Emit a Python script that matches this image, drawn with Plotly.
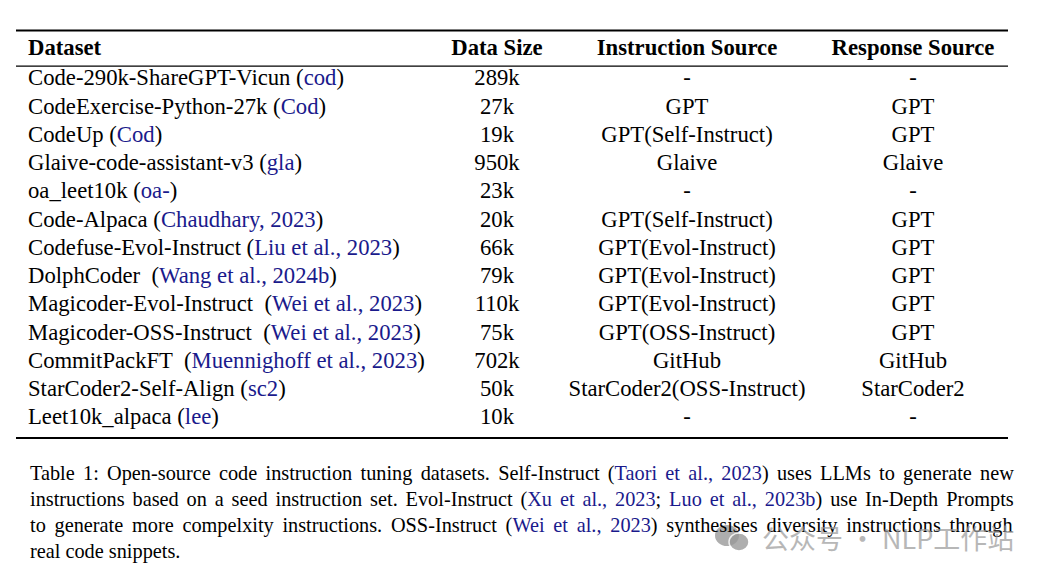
import plotly.graph_objects as go

# table content
headers = ["Dataset", "Data Size", "Instruction Source", "Response Source"]
dataset_names = ["Code-290k-ShareGPT-Vicun", "CodeExercise-Python-27k", "CodeUp",
                 "Glaive-code-assistant-v3", "oa_leet10k", "Code-Alpaca",
                 "Codefuse-Evol-Instruct", "DolphCoder ", "Magicoder-Evol-Instruct ",
                 "Magicoder-OSS-Instruct ", "CommitPackFT ", "StarCoder2-Self-Align",
                 "Leet10k_alpaca"]
citations = ["cod", "Cod", "Cod", "gla", "oa-", "Chaudhary, 2023", "Liu et al., 2023",
             "Wang et al., 2024b", "Wei et al., 2023", "Wei et al., 2023",
             "Muennighoff et al., 2023", "sc2", "lee"]
data_size = ["289k", "27k", "19k", "950k", "23k", "20k", "66k", "79k", "110k", "75k",
             "702k", "50k", "10k"]
instruction_source = ["-", "GPT", "GPT(Self-Instruct)", "Glaive", "-", "GPT(Self-Instruct)",
                      "GPT(Evol-Instruct)", "GPT(Evol-Instruct)", "GPT(Evol-Instruct)",
                      "GPT(OSS-Instruct)", "GitHub", "StarCoder2(OSS-Instruct)", "-"]
response_source = ["-", "GPT", "GPT", "Glaive", "-", "GPT", "GPT", "GPT", "GPT", "GPT",
                   "GitHub", "StarCoder2", "-"]

caption_lines = [
    "Table 1: Open-source code instruction tuning datasets. Self-Instruct (<c>Taori et al., 2023</c>) uses LLMs to generate new",
    "instructions based on a seed instruction set. Evol-Instruct (<c>Xu et al., 2023</c>; <c>Luo et al., 2023b</c>) use In-Depth Prompts",
    "to generate more compelxity instructions. OSS-Instruct (<c>Wei et al., 2023</c>) synthesises diversity instructions through",
    "real code snippets.",
]
# extra word spacing to mimic the justified caption lines
caption_spacing = [3.2, 2.8, 3.7, 0]

CITE = "#1a1a8c"
FONT = "Times New Roman, Liberation Serif, serif"
FS = 22.7
ROW_H = 28.25   # px per row
TOP = 51.5      # px of row index 0
HEADER_Y = -0.06
OFF = 8         # page body margin
W, H = 1050, 577

def cite(s):
    return f'<span style="color:{CITE}">{s}</span>'

def px_x(px):
    return (px - OFF) / W

def px_y(px):
    return 1 - (px - OFF) / H

rows = list(range(1, len(dataset_names) + 1))
first_col = [f"{n} ({cite(c)})" for n, c in zip(dataset_names, citations)]

fig = go.Figure()

# header
fig.add_trace(go.Scatter(x=[28], y=[HEADER_Y], text=[f"<b>{headers[0]}</b>"], mode="text",
                         textposition="middle right",
                         textfont=dict(family=FONT, size=FS, color="black")))
fig.add_trace(go.Scatter(x=[497, 687, 913], y=[HEADER_Y] * 3,
                         text=[f"<b>{h}</b>" for h in headers[1:]], mode="text",
                         textposition="middle center",
                         textfont=dict(family=FONT, size=FS, color="black")))

# body
fig.add_trace(go.Scatter(x=[28] * len(rows), y=rows, text=first_col, mode="text",
                         textposition="middle right",
                         textfont=dict(family=FONT, size=FS, color="black")))
for xc, col in zip([497, 687, 913], [data_size, instruction_source, response_source]):
    fig.add_trace(go.Scatter(x=[xc] * len(rows), y=rows, text=col, mode="text",
                             textposition="middle center",
                             textfont=dict(family=FONT, size=FS, color="black")))

# booktabs rules
for yv, w in [(-0.74, 2), (0.52, 1.2), (13.68, 2)]:
    fig.add_shape(type="line", x0=16, x1=1008, y0=yv, y1=yv,
                  line=dict(color="black", width=w))

# caption
for i, (line, ws) in enumerate(zip(caption_lines, caption_spacing)):
    txt = line.replace("<c>", f'<span style="color:{CITE}">').replace("</c>", "</span>")
    txt = f'<span style="word-spacing:{ws}px">{txt}</span>'
    fig.add_annotation(x=px_x(28), y=px_y(473 + 26 * i), xref="paper", yref="paper",
                       text=txt, showarrow=False, xanchor="left", yanchor="middle",
                       font=dict(family=FONT, size=20.3, color="black"))

# watermark (wechat-like bubbles + text)
fig.add_shape(type="circle", xref="paper", yref="paper",
              x0=px_x(715), x1=px_x(739), y0=px_y(546), y1=px_y(525),
              fillcolor="#9a9a9a", line_width=0, opacity=0.8)
fig.add_shape(type="circle", xref="paper", yref="paper",
              x0=px_x(729), x1=px_x(749), y0=px_y(551), y1=px_y(533),
              fillcolor="#9a9a9a", line=dict(color="white", width=1.5), opacity=0.8)
fig.add_annotation(x=px_x(1016), y=px_y(537), xref="paper", yref="paper",
                   text="公众号 · NLP工作站", showarrow=False, xanchor="right",
                   yanchor="middle", opacity=0.7,
                   font=dict(family="Noto Sans CJK SC", size=27, color="#9a9a9a"))

fig.update_layout(
    width=W, height=H, autosize=False,
    margin=dict(l=0, r=0, t=0, b=0),
    paper_bgcolor="white", plot_bgcolor="white",
    showlegend=False,
    xaxis=dict(range=[OFF, W + OFF], visible=False, fixedrange=True),
    yaxis=dict(range=[(H + OFF - TOP) / ROW_H, (OFF - TOP) / ROW_H], visible=False,
               fixedrange=True),
)

fig.write_html("out.html")
